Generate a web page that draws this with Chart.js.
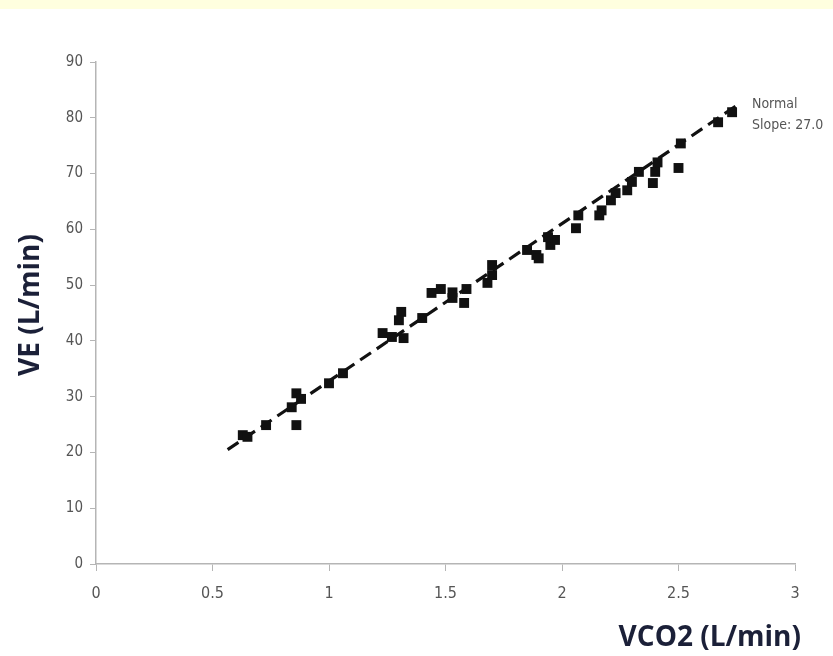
<!DOCTYPE html>
<html>
<head>
<meta charset="utf-8">
<script src="https://cdn.jsdelivr.net/npm/chart.js@4.4.1/dist/chart.umd.min.js"></script>
<style>
  html, body { margin: 0; padding: 0; background: #fff; }
  #band { position: absolute; left: 0; top: 0; width: 833px; height: 9px; background: #ffffdf; }
  #wrap { position: absolute; left: 0; top: 0; width: 833px; height: 656px; }
</style>
</head>
<body>
<div id="wrap"><canvas id="chart" width="833" height="656"></canvas></div>
<div id="band"></div>
<script>
// VCO2 (L/min) measurements
const vco2 = [0.63, 0.65, 0.73, 0.84, 0.86, 0.88, 0.86, 1.00, 1.06, 1.23,
              1.27, 1.32, 1.31, 1.30, 1.40, 1.44, 1.48, 1.53, 1.53, 1.58,
              1.59, 1.68, 1.70, 1.70, 1.85, 1.89, 1.90, 1.95, 1.97, 1.94,
              2.07, 2.06, 2.17, 2.16, 2.21, 2.23, 2.28, 2.30, 2.33, 2.39,
              2.40, 2.41, 2.50, 2.51, 2.67, 2.73];
// VE (L/min) measurements
const ve = [23.1, 22.8, 24.9, 28.1, 30.6, 29.6, 24.9, 32.4, 34.2, 41.4,
            40.7, 40.5, 45.2, 43.7, 44.1, 48.6, 49.3, 48.7, 47.7, 46.8,
            49.3, 50.4, 51.8, 53.6, 56.3, 55.4, 54.8, 57.2, 58.1, 58.6,
            62.5, 60.2, 63.4, 62.5, 65.2, 66.5, 67.0, 68.5, 70.3, 68.3,
            70.3, 72.0, 71.0, 75.4, 79.2, 81.0];
// dashed regression line ends
const trendX = [0.565, 2.76];
const trendY = [20.5, 82.5];

const xTicks = [0, 0.5, 1, 1.5, 2, 2.5, 3];
const yTicks = [0, 10, 20, 30, 40, 50, 60, 70, 80, 90];
const annotation = ['Normal', 'Slope: 27.0'];
const xTitle = 'VCO2 (L/min)';
const yTitle = 'VE (L/min)';

const tickFont = "'Liberation Sans Narrow', 'DejaVu Sans Condensed', 'Liberation Sans', sans-serif";

const scatterData = vco2.map((x, i) => ({ x: x, y: ve[i] }));
const trendData = trendX.map((x, i) => ({ x: x, y: trendY[i] }));

// extra text: axis titles + annotation
const textPlugin = {
    id: 'texts',
    afterDraw(chart) {
        const ctx = chart.ctx;
        ctx.save();
        ctx.fillStyle = '#1b2038';
        ctx.font = "bold 28px 'Open Sans', sans-serif";
        ctx.textAlign = 'right';
        ctx.textBaseline = 'alphabetic';
        ctx.fillText(xTitle, 801, 646);

        ctx.translate(39, 305);
        ctx.rotate(-Math.PI / 2);
        ctx.textAlign = 'center';
        ctx.fillText(yTitle, 0, 0);
        ctx.restore();

        ctx.save();
        ctx.fillStyle = '#555';
        ctx.font = "14px " + tickFont;
        ctx.textAlign = 'left';
        ctx.textBaseline = 'top';
        ctx.fillText(annotation[0], 752, 97);
        ctx.fillText(annotation[1], 752, 118);
        ctx.restore();
    }
};

new Chart(document.getElementById('chart'), {
    type: 'scatter',
    data: {
        datasets: [
            {
                label: 'trend',
                type: 'line',
                data: trendData,
                borderColor: '#111',
                borderWidth: 3.2,
                borderDash: [13, 7],
                pointRadius: 0,
                fill: false,
                order: 2
            },
            {
                label: 'data',
                data: scatterData,
                pointStyle: 'rect',
                pointRadius: 7,
                pointHoverRadius: 7,
                backgroundColor: '#111',
                borderColor: '#111',
                borderWidth: 0,
                order: 1
            }
        ]
    },
    options: {
        responsive: false,
        animation: false,
        layout: { padding: { top: 62, right: 38, left: 0, bottom: 0 } },
        plugins: {
            legend: { display: false },
            tooltip: { enabled: false }
        },
        scales: {
            x: {
                type: 'linear',
                min: 0,
                max: 3,
                afterBuildTicks: s => { s.ticks = xTicks.map(v => ({ value: v })); },
                afterFit: s => { s.height = 92; },
                grid: { drawOnChartArea: false, drawTicks: true, tickLength: 7, color: '#b5b5b5' },
                border: { display: true, color: '#b5b5b5', width: 1.5 },
                ticks: {
                    padding: 13,
                    color: '#555',
                    font: { family: tickFont, size: 16 },
                    callback: v => String(v)
                }
            },
            y: {
                type: 'linear',
                min: 0,
                max: 90,
                afterBuildTicks: s => { s.ticks = yTicks.map(v => ({ value: v })); },
                afterFit: s => { s.width = 96; },
                grid: { drawOnChartArea: false, drawTicks: true, tickLength: 6, color: '#b5b5b5' },
                border: { display: true, color: '#b5b5b5', width: 1.5 },
                ticks: {
                    padding: 7,
                    color: '#555',
                    font: { family: tickFont, size: 15 },
                    callback: v => String(v)
                }
            }
        }
    },
    plugins: [textPlugin]
});
</script>
</body>
</html>
